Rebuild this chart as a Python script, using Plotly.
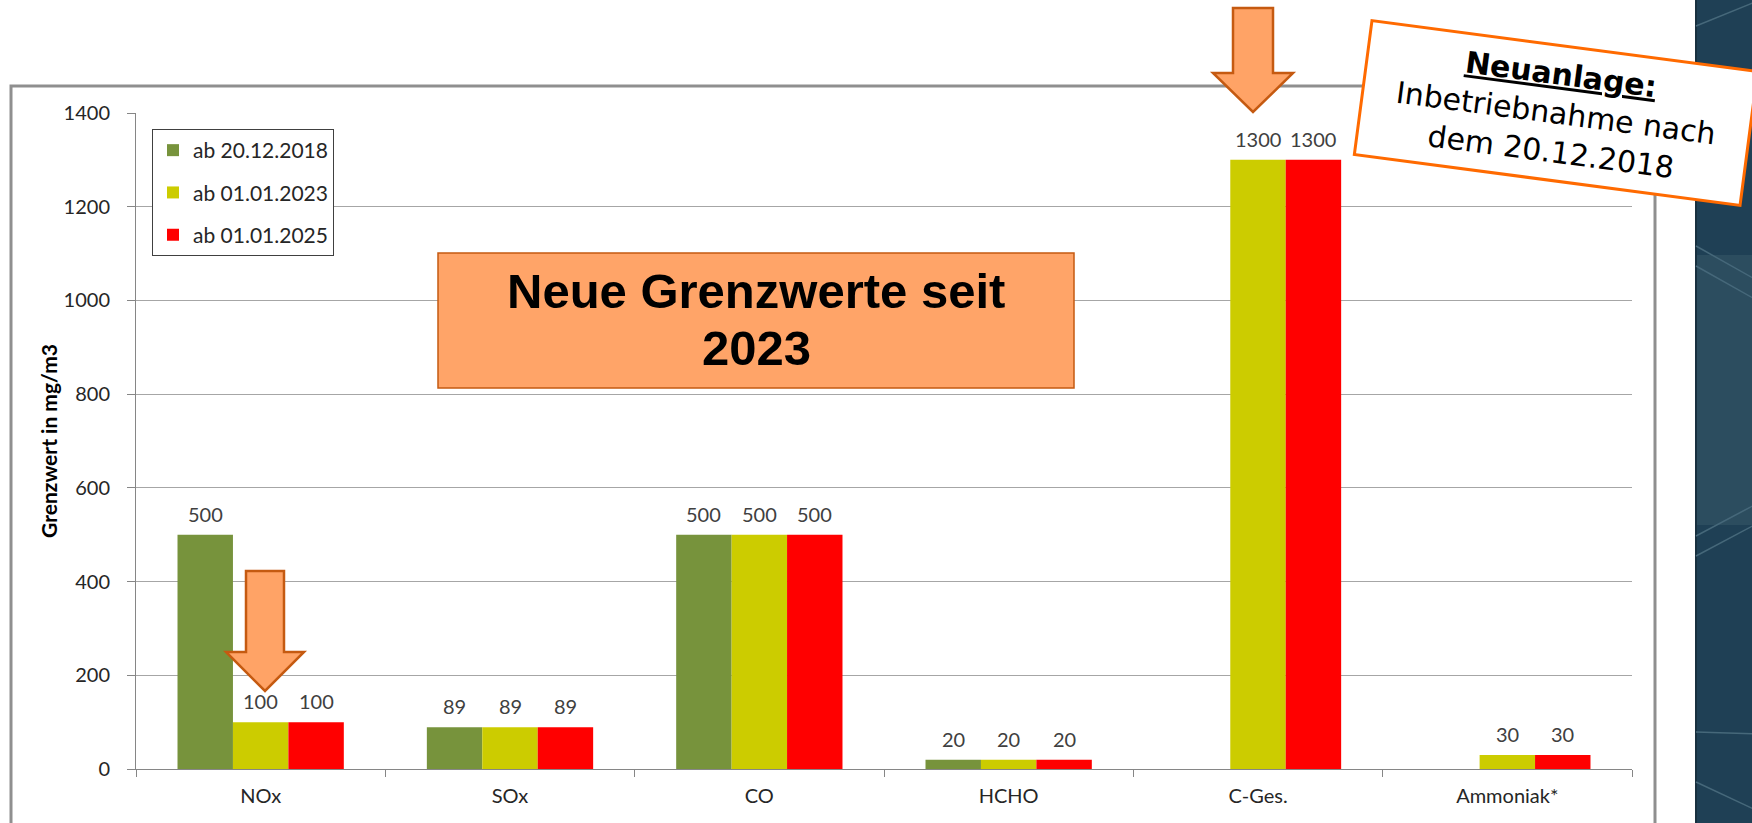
import plotly.graph_objects as go

W, H = 1752, 823
ML, MR, MT, MB = 136, 120, 113, 54
PW = W - ML - MR
PH = H - MT - MB

categories = ["NOx", "SOx", "CO", "HCHO", "C-Ges.", "Ammoniak*"]
series_names = ["ab 20.12.2018", "ab 01.01.2023", "ab 01.01.2025"]
vals_2018 = [500, 89, 500, 20, None, None]
vals_2023 = [100, 89, 500, 20, 1300, 30]
vals_2025 = [100, 89, 500, 20, 1300, 30]
series_colors = ["#77933C", "#CCCC00", "#FF0000"]

BARGAP = 0.333
FONT = "Lato"
TXT = "#404040"


def px(x):
    # figure pixel -> paper x
    return (x - ML) / PW


def py(y):
    # figure pixel -> paper y
    return (H - MB - y) / PH


def path(points):
    return "M " + " L ".join(f"{px(x):.5f},{py(y):.5f}" for x, y in points) + " Z"


def down_arrow(cx, top, head_y, tip_y, shaft_w, head_w):
    return path([
        (cx - shaft_w / 2, top), (cx + shaft_w / 2, top),
        (cx + shaft_w / 2, head_y), (cx + head_w / 2, head_y),
        (cx, tip_y),
        (cx - head_w / 2, head_y), (cx - shaft_w / 2, head_y),
    ])


fig = go.Figure()

all_vals = [vals_2018, vals_2023, vals_2025]
for i, (name, vals, col) in enumerate(zip(series_names, all_vals, series_colors)):
    fig.add_trace(go.Bar(
        x=categories, y=vals, name=name,
        marker=dict(color=col, line=dict(width=0)),
        legendgroup=name,
    ))

# data labels above bars
bar_px = PW / len(categories) * (1 - BARGAP) / 3
annotations = []
for i, vals in enumerate(all_vals):
    for cat, v in zip(categories, vals):
        if v is None:
            continue
        annotations.append(dict(
            x=cat, y=v, xref="x", yref="y", text=str(v), showarrow=False,
            xanchor="center", yanchor="middle",
            xshift=(i - 1) * bar_px, yshift=21,
            font=dict(family=FONT, size=20, color=TXT),
        ))

# "Neue Grenzwerte seit 2023" box text, one annotation per line
for line, ypix in [("Neue Grenzwerte seit", 291), ("2023", 348)]:
    annotations.append(dict(
        x=px(756), y=py(ypix), xref="paper", yref="paper", showarrow=False,
        xanchor="center", yanchor="middle",
        text=f"<b>{line}</b>",
        font=dict(family="Liberation Sans", size=49, color="black"),
    ))

# rotated note
annotations.append(dict(
    x=px(1556), y=py(113), xref="paper", yref="paper", showarrow=False,
    xanchor="center", yanchor="middle",
    text="<b><u>Neuanlage:</u></b><br>Inbetriebnahme nach<br>dem 20.12.2018",
    textangle=7.5, width=378, height=124, borderpad=4,
    bgcolor="white", bordercolor="#FF6A00", borderwidth=3,
    font=dict(family="DejaVu Sans", size=30, color="black"),
))

shapes = [
    # slide frame around chart
    dict(type="rect", xref="paper", yref="paper",
         x0=px(11), x1=px(1655), y0=py(86), y1=py(840),
         line=dict(color="#8f8f8f", width=3), layer="below"),
    # dark panel on the right
    dict(type="rect", xref="paper", yref="paper",
         x0=px(1696), x1=px(1770), y0=py(-10), y1=py(840),
         fillcolor="#1f4055", line=dict(width=0), layer="below"),
    dict(type="rect", xref="paper", yref="paper",
         x0=px(1696), x1=px(1770), y0=py(255), y1=py(525),
         fillcolor="#2c4d5f", line=dict(width=0), layer="below"),
    dict(type="line", xref="paper", yref="paper",
         x0=px(1696), x1=px(1696), y0=py(-10), y1=py(840),
         line=dict(color="#18303f", width=2), layer="below"),
    # orange title box
    dict(type="rect", xref="paper", yref="paper",
         x0=px(438), x1=px(1074), y0=py(253), y1=py(388),
         fillcolor="#FFA468", line=dict(color="#C55A11", width=1.5)),
    # arrows
    dict(type="path", xref="paper", yref="paper",
         path=down_arrow(265, 571, 652, 691, 38, 78),
         fillcolor="#FFA366", line=dict(color="#C55A11", width=2.5)),
    dict(type="path", xref="paper", yref="paper",
         path=down_arrow(1253, 8, 73, 112, 40, 80),
         fillcolor="#FFA366", line=dict(color="#C55A11", width=2.5)),
]

# faint lines in the dark panel
panel_lines = [
    ((1696, 26), (1760, 0)),
    ((1696, 246), (1760, 282)),
    ((1696, 266), (1760, 302)),
    ((1696, 536), (1760, 502)),
    ((1696, 556), (1760, 522)),
    ((1696, 732), (1760, 734)),
    ((1696, 782), (1760, 812)),
]
for (x0, y0), (x1, y1) in panel_lines:
    shapes.append(dict(type="line", xref="paper", yref="paper",
                       x0=px(x0), y0=py(y0), x1=px(x1), y1=py(y1),
                       line=dict(color="#46687a", width=1.5), layer="below"))

fig.update_layout(
    width=W, height=H,
    margin=dict(l=ML, r=MR, t=MT, b=MB, pad=0),
    paper_bgcolor="white", plot_bgcolor="white",
    barmode="group", bargap=BARGAP, bargroupgap=0,
    font=dict(family=FONT, size=20, color=TXT),
    showlegend=True,
    legend=dict(
        x=px(152), y=py(129), xanchor="left", yanchor="top",
        bgcolor="white", bordercolor="#404040", borderwidth=1,
        font=dict(family=FONT, size=21, color="#262626"),
        tracegroupgap=12, itemwidth=30,
    ),
    xaxis=dict(
        showline=True, linecolor="#868686", linewidth=1,
        ticks="outside", tickson="boundaries", ticklen=7, tickcolor="#868686",
        ticklabelstandoff=9, showgrid=False,
        tickfont=dict(family=FONT, size=20, color="#262626"),
    ),
    yaxis=dict(
        range=[0, 1400], dtick=200, showline=True, linecolor="#868686", linewidth=1,
        ticks="outside", ticklen=8, tickcolor="#868686",
        gridcolor="#a6a6a6", gridwidth=1, zeroline=False,
        ticklabelstandoff=13,
        tickfont=dict(family=FONT, size=20, color="#262626"),
        title=dict(text="<b>Grenzwert in mg/m3</b>", standoff=0,
                   font=dict(family=FONT, size=21, color="black")),
    ),
    annotations=annotations,
    shapes=shapes,
)

fig.write_html("out.html", config={"displayModeBar": False},
               post_script="document.body.style.margin='0';document.body.style.overflow='hidden';")
